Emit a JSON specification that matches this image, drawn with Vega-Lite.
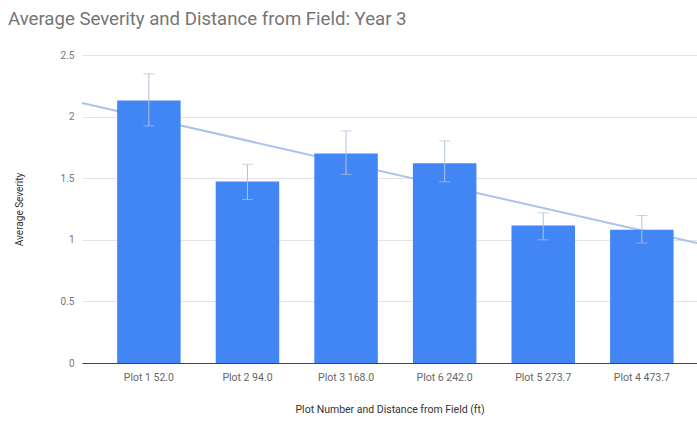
{
  "$schema": "https://vega.github.io/schema/vega-lite/v6.json",
  "autosize": "none",
  "width": 615,
  "height": 308,
  "padding": {"left": 82, "top": 55, "right": 0, "bottom": 60},
  "background": "white",
  "config": {
    "font": "Roboto",
    "view": {"stroke": null},
    "axis": {"labelFont": "Roboto", "titleFont": "Roboto"}
  },
  "title": {
    "text": "Average Severity and Distance from Field: Year 3",
    "anchor": "start",
    "frame": "group",
    "dx": -74,
    "offset": 21,
    "fontSize": 18.6,
    "fontWeight": "normal",
    "color": "#757575",
    "font": "Roboto"
  },
  "datasets": {
    "bars": [
      {"plot": "Plot 1 52.0", "severity": 2.13, "lo": 1.925, "hi": 2.347},
      {"plot": "Plot 2 94.0", "severity": 1.474, "lo": 1.327, "hi": 1.613},
      {"plot": "Plot 3 168.0", "severity": 1.70, "lo": 1.531, "hi": 1.884},
      {"plot": "Plot 6 242.0", "severity": 1.621, "lo": 1.471, "hi": 1.803},
      {"plot": "Plot 5 273.7", "severity": 1.117, "lo": 1.0, "hi": 1.219},
      {"plot": "Plot 4 473.7", "severity": 1.082, "lo": 0.974, "hi": 1.197}
    ],
    "trend": [
      {"t": 0, "value": 2.11},
      {"t": 1, "value": 0.974}
    ]
  },
  "layer": [
    {
      "data": {"name": "trend"},
      "mark": {"type": "line", "color": "#a9c3ef", "strokeWidth": 2},
      "encoding": {
        "x": {"field": "t", "type": "quantitative", "scale": {"domain": [0, 1], "nice": false, "zero": false}, "axis": null},
        "y": {"field": "value", "type": "quantitative", "scale": {"domain": [0, 2.5], "nice": false}}
      }
    },
    {
      "data": {"name": "bars"},
      "layer": [
        {
          "mark": {"type": "bar", "color": "#4285f4"},
          "encoding": {
            "x": {
              "field": "plot", "type": "nominal", "sort": null,
              "scale": {"paddingInner": 0.356, "paddingOuter": 0.297, "align": 0.6},
              "axis": {
                "title": "Plot Number and Distance from Field (ft)",
                "labelAngle": 0, "labelFontSize": 10.5, "labelColor": "#666666",
                "labelPadding": 9, "ticks": false,
                "domainColor": "#444444", "domainWidth": 1,
                "titleFontSize": 10.5, "titleFontWeight": "normal", "titleColor": "#333333",
                "titlePadding": 22
              }
            },
            "y": {
              "field": "severity", "type": "quantitative",
              "scale": {"domain": [0, 2.5], "nice": false},
              "axis": {
                "title": "Average Severity",
                "values": [0, 0.5, 1, 1.5, 2, 2.5],
                "format": "~g",
                "labelFontSize": 10, "labelColor": "#777777", "labelPadding": 8,
                "ticks": false, "domain": false,
                "gridColor": "#e4e4e4", "gridWidth": 1,
                "titleFontSize": 10, "titleFontWeight": "normal", "titleColor": "#333333",
                "titlePadding": 36
              }
            }
          }
        },
        {
          "mark": {"type": "rule", "color": "#b3c2dc", "strokeWidth": 1},
          "encoding": {
            "x": {"field": "plot", "type": "nominal", "sort": null},
            "y": {"field": "lo", "type": "quantitative"},
            "y2": {"field": "hi"}
          }
        },
        {
          "mark": {"type": "tick", "color": "#b3c2dc", "thickness": 1, "size": 11},
          "encoding": {
            "x": {"field": "plot", "type": "nominal", "sort": null},
            "y": {"field": "lo", "type": "quantitative"}
          }
        },
        {
          "mark": {"type": "tick", "color": "#b3c2dc", "thickness": 1, "size": 11},
          "encoding": {
            "x": {"field": "plot", "type": "nominal", "sort": null},
            "y": {"field": "hi", "type": "quantitative"}
          }
        }
      ]
    }
  ],
  "resolve": {"scale": {"x": "independent"}}
}
